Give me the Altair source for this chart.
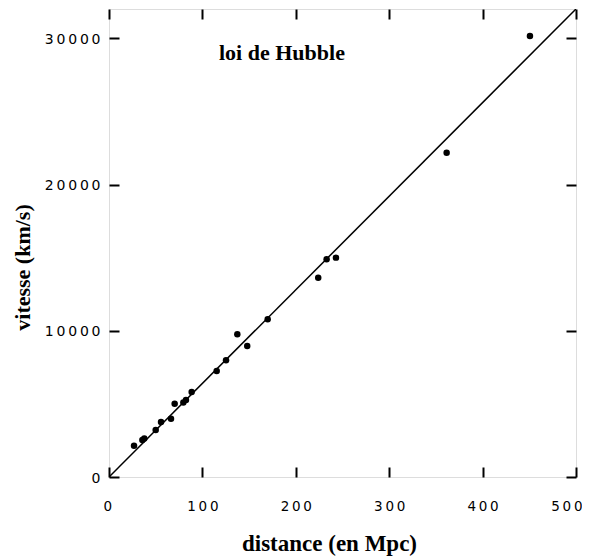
import altair as alt
import pandas as pd

# Data (Hubble law)
distance = [26.8, 35.7, 37.8, 50.0, 55.7, 66.4, 70.3, 79.6, 82.4, 88.5,
            115.3, 125.3, 137.4, 148.0, 169.9, 224.0, 233.0, 243.0, 361.5, 450.7]
velocity = [2140, 2530, 2640, 3210, 3760, 3990, 5010, 5100, 5260, 5810,
            7250, 7980, 9760, 8960, 10780, 13630, 14890, 15000, 22170, 30150]

fit_x = [0, 500]
fit_y = [0, 32000]

x_ticks = [0, 100, 200, 300, 400, 500]
y_ticks = [0, 10000, 20000, 30000]

pts = pd.DataFrame({"d": distance, "v": velocity})
fit = pd.DataFrame({"d": fit_x, "v": fit_y})

xs = alt.Scale(domain=[0, 500], nice=False, zero=True)
ys = alt.Scale(domain=[0, 32000], nice=False, zero=True)

LBL = "join(split(datum.label, ''), '\u2009')"
LFONT = "DejaVu Sans"
TFONT = "Liberation Serif"

x_main = alt.Axis(
    orient="bottom", values=x_ticks, format="d", offset=-10, domain=False, grid=False,
    tickSize=10, tickWidth=2, tickColor="black",
    labelPadding=22, labelFont=LFONT, labelFontSize=13.5, labelColor="black",
    labelExpr=LBL, labelFlush=True, labelFlushOffset=6,
    title="distance (en Mpc)", titleFont=TFONT, titleFontSize=23,
    titleFontWeight="bold", titleColor="black", titleX=220, titleY=83,
    titleAlign="center", titleBaseline="alphabetic",
)
y_main = alt.Axis(
    orient="left", values=y_ticks, format="d", offset=-10, domain=False, grid=False,
    tickSize=10, tickWidth=2, tickColor="black",
    labelPadding=9, labelFont=LFONT, labelFontSize=14, labelColor="black",
    labelExpr=LBL, labelFlush=False, labelOffset=1,
    title="vitesse (km/s)", titleFont=TFONT, titleFontSize=22,
    titleFontWeight="bold", titleColor="black", titleX=-97, titleY=258,
    titleAlign="center", titleBaseline="middle", titleAngle=-90,
)
x_top = alt.Axis(orient="top", values=x_ticks, offset=-10, domain=False, grid=False,
                 tickSize=10, tickWidth=2, tickColor="black", labels=False, title=None)
y_right = alt.Axis(orient="right", values=y_ticks, offset=-10, domain=False, grid=False,
                   tickSize=10, tickWidth=2, tickColor="black", labels=False, title=None)

line = alt.Chart(fit).mark_line(color="black", strokeWidth=1.5, clip=True).encode(
    x=alt.X("d:Q", scale=xs, axis=x_main),
    y=alt.Y("v:Q", scale=ys, axis=y_main),
)
points = alt.Chart(pts).mark_circle(color="black", opacity=1, size=42).encode(
    x=alt.X("d:Q", scale=xs, axis=x_top),
    y=alt.Y("v:Q", scale=ys, axis=y_right),
)

chart = alt.layer(line, points).resolve_axis(x="independent", y="independent").properties(
    width=467, height=468,
    autosize=alt.AutoSizeParams(type="none"),
    padding={"left": 101, "top": 1, "right": 6, "bottom": 82},
    title=alt.Title("loi de Hubble", font=TFONT, fontSize=22, fontWeight="bold",
                    color="black", anchor="start", frame="group", orient="top", offset=0,
                    baseline="alphabetic", dx=110, dy=74),
).configure_view(stroke="black", strokeWidth=2).configure(background="white")

chart.save("out.html", embed_options={"renderer": "svg", "actions": False})
